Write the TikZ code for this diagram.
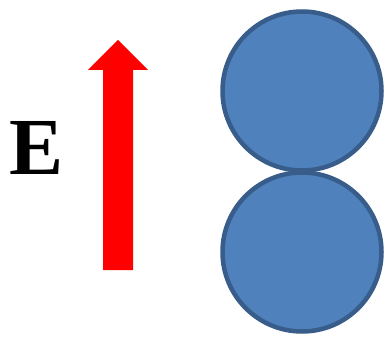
\documentclass[tikz,border=0pt]{standalone}
\usepackage{fontspec}
\setmainfont{Liberation Serif}
\definecolor{ballfill}{HTML}{4F81BD}
\definecolor{ballline}{HTML}{385D8A}
\begin{document}
\begin{tikzpicture}[x=1pt,y=-1pt,
  ball/.style={circle,fill=ballfill,draw=ballline,line width=4.5pt,minimum size=159pt,inner sep=0pt}]
\useasboundingbox (0,0) rectangle (385,339);
\node[anchor=base west,inner sep=0pt,font=\fontsize{81}{81}\selectfont\bfseries] (E) at (9,175) {E};
\fill[red] (103,270) -- (103,70) -- (88,70) -- (118,40) -- (148,70) -- (133,70) -- (133,270) -- cycle;
\node[ball] (top) at (302,91) {};
\node[ball] (bot) at (302,252) {};
\end{tikzpicture}
\end{document}
